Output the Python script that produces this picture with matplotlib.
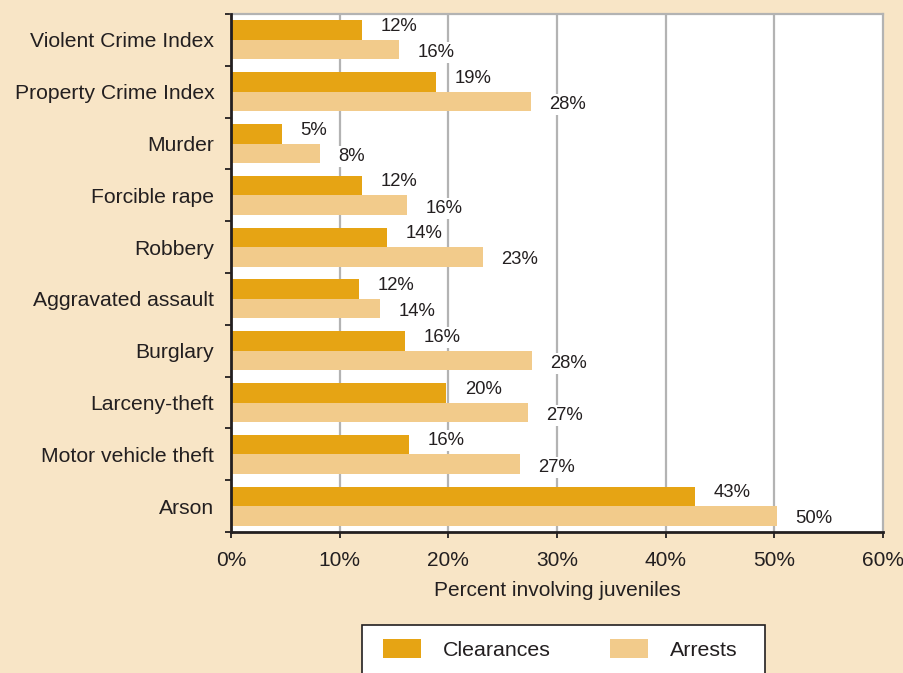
import matplotlib.pyplot as plt
from matplotlib.patches import Patch, Rectangle
import numpy as np

categories = ['Violent Crime Index', 'Property Crime Index', 'Murder', 'Forcible rape',
              'Robbery', 'Aggravated assault', 'Burglary', 'Larceny-theft',
              'Motor vehicle theft', 'Arson']
clearances = [12.1, 18.9, 4.7, 12.1, 14.4, 11.8, 16.0, 19.8, 16.4, 42.7]
arrests = [15.5, 27.6, 8.2, 16.2, 23.2, 13.7, 27.7, 27.3, 26.6, 50.2]
xticks = [0, 10, 20, 30, 40, 50, 60]

bg = '#F8E5C6'
dark = '#E6A414'
light = '#F2CB8B'
grid = '#B3B3B3'
ink = '#231F20'

plt.rcParams['font.family'] = ['Liberation Sans', 'DejaVu Sans']

fig = plt.figure(figsize=(9.04, 6.73), dpi=100, facecolor=bg)
ax = fig.add_axes([231 / 904, 1 - 532 / 673, (883 - 231) / 904, (532 - 14) / 673])
ax.set_facecolor('white')

y = np.arange(len(categories))
h = 0.375
ax.barh(y - h / 2, clearances, height=h, color=dark, zorder=3)
ax.barh(y + h / 2, arrests, height=h, color=light, zorder=3)

box = dict(facecolor='white', edgecolor='none', pad=1.5)
for i in range(len(categories)):
    ax.text(clearances[i] + 1.7, y[i] - h / 2 - 0.07, f'{clearances[i]:.0f}%', ha='left', va='center',
            fontsize=13.3, color=ink, bbox=box, zorder=4)
    ax.text(arrests[i] + 1.7, y[i] + h / 2 + 0.06, f'{arrests[i]:.0f}%', ha='left', va='center',
            fontsize=13.3, color=ink, bbox=box, zorder=4)

ax.set_xlim(0, 60)
ax.set_ylim(len(categories) - 0.5, -0.5)
ax.set_xticks(xticks)
ax.set_xticklabels([f'{t}%' for t in xticks], fontsize=15, color=ink)
ax.set_yticks(y)
ax.set_yticklabels(categories, fontsize=15.2, color=ink)
ax.set_yticks(np.arange(len(categories) + 1) - 0.5, minor=True)
ax.tick_params(axis='y', which='major', length=0, pad=12)
ax.tick_params(axis='y', which='minor', length=4.5, width=1.3, color=ink, direction='out')
ax.tick_params(axis='x', length=4.5, width=1.3, color=ink, pad=9)

for xv in xticks[1:-1]:
    ax.axvline(xv, color=grid, linewidth=1.6, zorder=1)

for s in ['top', 'right']:
    ax.spines[s].set_color(grid)
    ax.spines[s].set_linewidth(1.6)
for s in ['left', 'bottom']:
    ax.spines[s].set_color(ink)
    ax.spines[s].set_linewidth(2)
    ax.spines[s].set_zorder(5)

ax.set_xlabel('Percent involving juveniles', fontsize=15, color=ink, labelpad=8)

# legend box runs off the bottom edge, so the frame is drawn by hand
fig.patches.append(Rectangle((362 / 904, -0.05), (765 - 362) / 904, 0.05 + 1 - 625 / 673,
                             transform=fig.transFigure, facecolor='white', edgecolor=ink,
                             linewidth=1.2, zorder=1))
handles = [Patch(facecolor=dark, edgecolor='none', label='Clearances'),
           Patch(facecolor=light, edgecolor='none', label='Arrests')]
leg = fig.legend(handles=handles, loc='upper left', bbox_to_anchor=(383 / 904, 1 - 639 / 673),
                 ncol=2, fontsize=15.4, frameon=False, borderpad=0, borderaxespad=0,
                 handlelength=1.8, handleheight=1.0, handletextpad=1.0, columnspacing=2.75)
for t in leg.get_texts():
    t.set_color(ink)

fig.savefig('out.png', dpi=100, facecolor=bg)
